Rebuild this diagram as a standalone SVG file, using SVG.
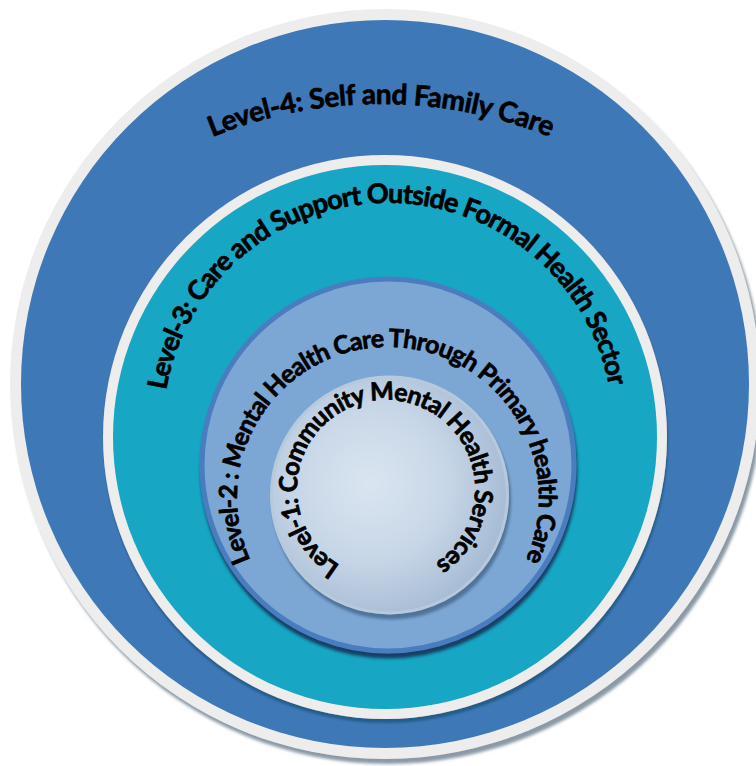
<svg xmlns="http://www.w3.org/2000/svg" width="756" height="766" viewBox="0 0 756 766">
  <defs>
    <style>
      .lbl { font-family: Lato, "Open Sans", "Liberation Sans", sans-serif; font-weight: 700; fill: #000; stroke: #000; stroke-width: 0.7; stroke-linejoin: round; }
    </style>
    <filter id="shOuter" x="-10%" y="-10%" width="120%" height="120%">
      <feDropShadow dx="3" dy="5" stdDeviation="1.5" flood-color="#7E8E9C" flood-opacity="0.9"/>
    </filter>
    <filter id="shTeal" x="-10%" y="-10%" width="120%" height="120%">
      <feDropShadow dx="1" dy="4" stdDeviation="1.2" flood-color="#1F5C86" flood-opacity="0.9"/>
    </filter>
    <filter id="shL2" x="-10%" y="-10%" width="120%" height="120%">
      <feDropShadow dx="1" dy="5" stdDeviation="1.5" flood-color="#173A62" flood-opacity="0.95"/>
    </filter>
    <filter id="shL1" x="-10%" y="-10%" width="120%" height="120%">
      <feDropShadow dx="2" dy="5" stdDeviation="1.5" flood-color="#4E6F96" flood-opacity="0.95"/>
    </filter>
    <radialGradient id="g1" cx="42%" cy="45%" r="60%">
      <stop offset="0" stop-color="#DAE5F0"/>
      <stop offset="0.55" stop-color="#C7D6E7"/>
      <stop offset="1" stop-color="#A5BAD4"/>
    </radialGradient>
    <path id="p4" d="M212,137 A449,449 0 0 1 550,137"/>
    <path id="p3" d="M166.2,390.1 A225,225 0 0 1 609.1,386.2"/>
    <path id="p2" d="M250.4,560.1 A151,151 0 1 1 525.6,560.1"/>
    <path id="p1" d="M339.9,565.1 A89,89 0 1 1 435.4,563.0"/>
  </defs>

  <rect width="756" height="766" fill="#FFFFFF"/>

  <g id="level4">
    <circle cx="385" cy="384" r="375" fill="#EDEDED" filter="url(#shOuter)"/>
    <circle cx="385" cy="384" r="364" fill="#3F78B7"/>
    <text class="lbl" font-size="28"><textPath href="#p4" startOffset="50%" text-anchor="middle" textLength="346" lengthAdjust="spacing">Level-4: Self and Family Care</textPath></text>
  </g>

  <g id="level3">
    <circle cx="385" cy="437" r="282" fill="#EDEDED" filter="url(#shTeal)"/>
    <circle cx="385" cy="437" r="272" fill="#17A6C4"/>
    <text class="lbl" font-size="27"><textPath href="#p3" startOffset="50%" text-anchor="middle" textLength="627" lengthAdjust="spacing">Level-3: Care and Support Outside Formal Health Sector</textPath></text>
  </g>

  <g id="level2">
    <circle cx="388" cy="465" r="186" fill="#7BA7D5" stroke="#4A7DC0" stroke-width="5" filter="url(#shL2)"/>
    <text class="lbl" font-size="25"><textPath href="#p2" startOffset="50%" text-anchor="middle" textLength="602" lengthAdjust="spacing">Level-2 : Mental Health Care Through Primary health Care</textPath></text>
  </g>

  <g id="level1">
    <circle cx="389.5" cy="495" r="118" fill="url(#g1)" stroke="#B7C9DD" stroke-width="3" filter="url(#shL1)"/>
    <text class="lbl" font-size="25"><textPath href="#p1" startOffset="50%" text-anchor="middle" textLength="458" lengthAdjust="spacing">Level-1: Community Mental Health Services</textPath></text>
  </g>
</svg>
